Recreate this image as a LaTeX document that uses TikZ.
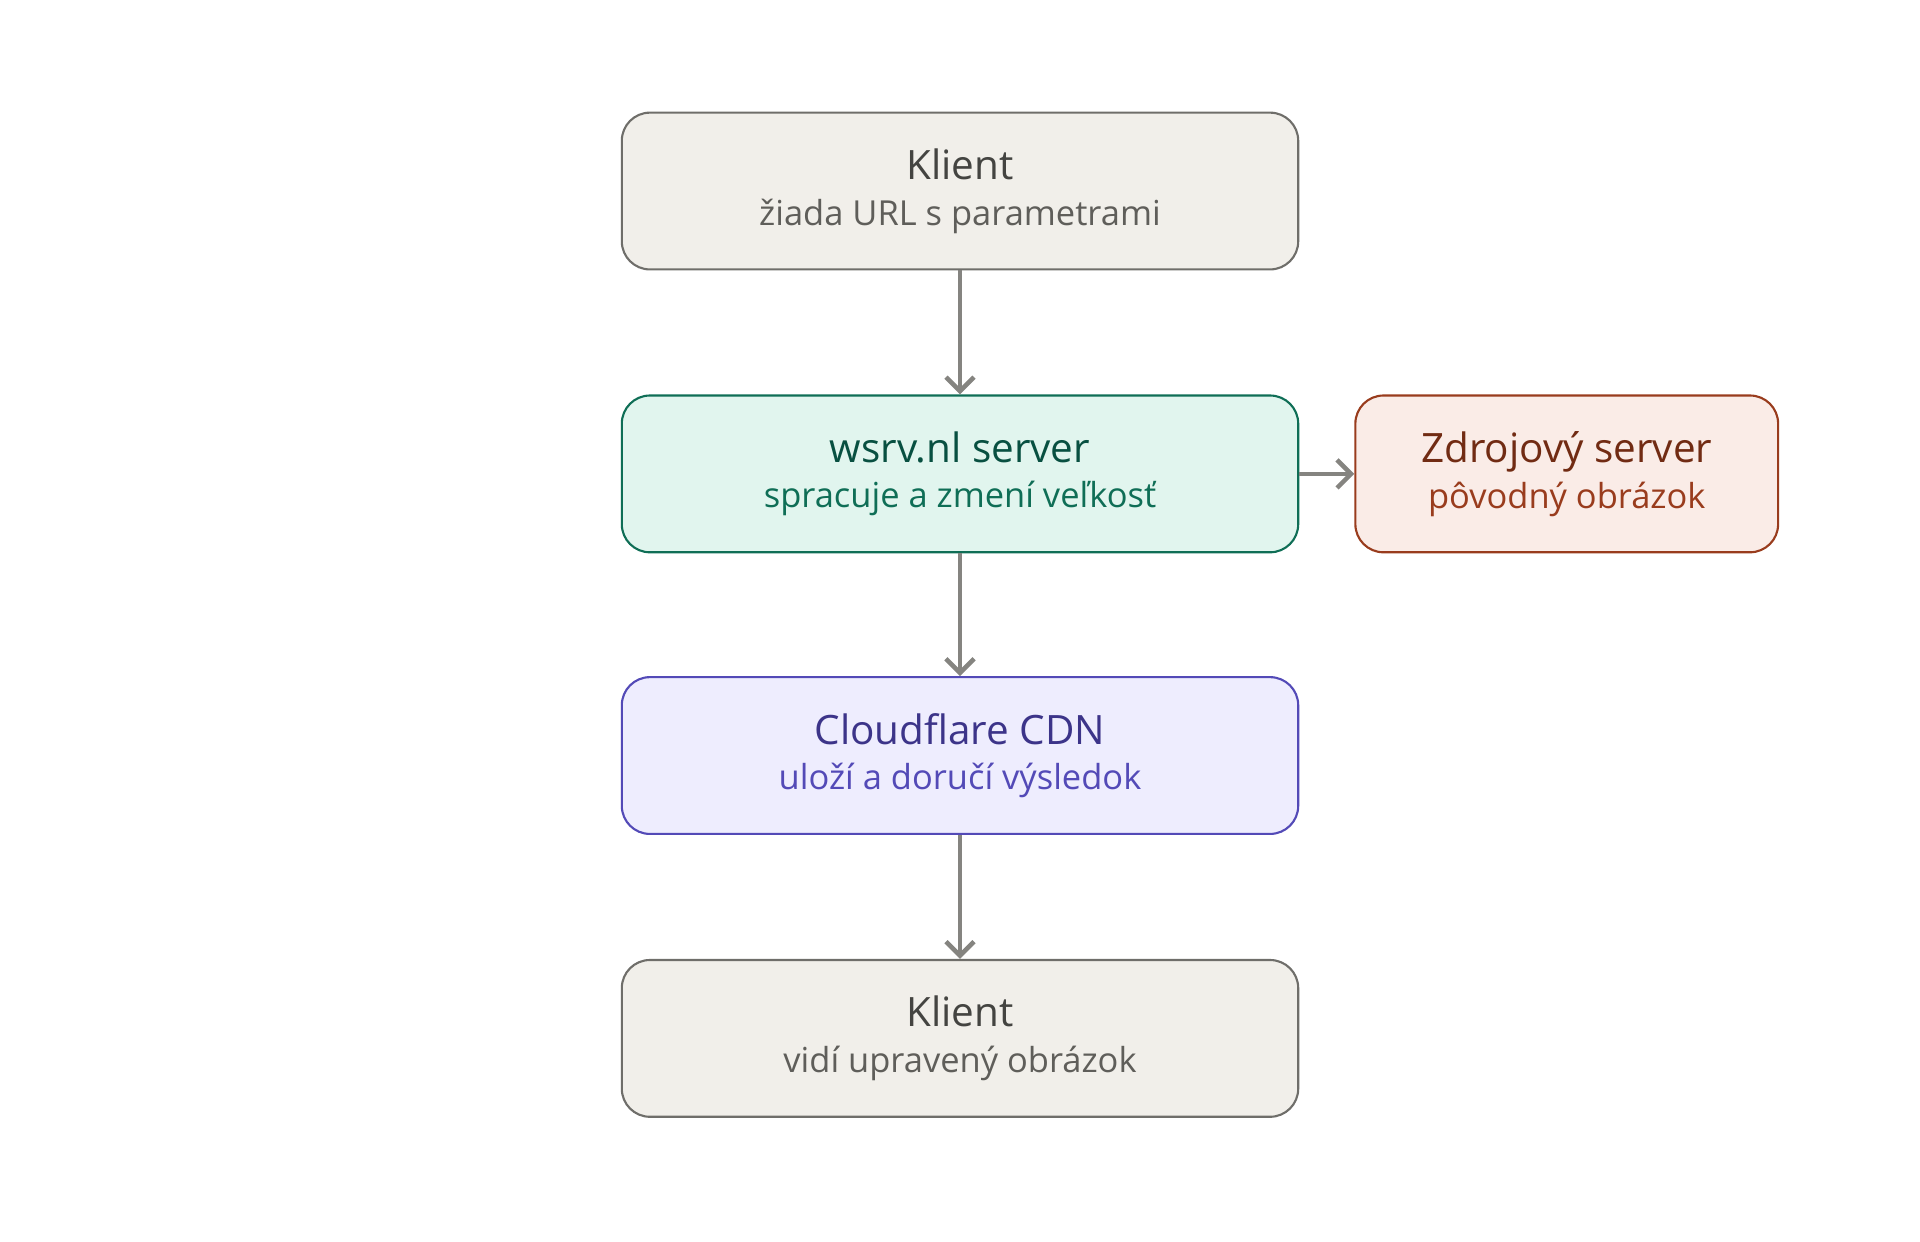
\documentclass[tikz,border=0pt]{standalone}
\usepackage{fontspec}
\setmainfont{Open Sans}
\usepackage{tikz}
\usepackage{xcolor}
\usetikzlibrary{arrows.meta}
\definecolor{grayfill}{HTML}{F1EFEA}
\definecolor{graydraw}{HTML}{6F6E6A}
\definecolor{graytext}{HTML}{444441}
\definecolor{graysub}{HTML}{5F5E5A}
\definecolor{greenfill}{HTML}{E1F5EE}
\definecolor{greendraw}{HTML}{0F6E56}
\definecolor{greentext}{HTML}{085041}
\definecolor{purplefill}{HTML}{EEEDFE}
\definecolor{purpledraw}{HTML}{534AB7}
\definecolor{purpletext}{HTML}{3C3489}
\definecolor{redfill}{HTML}{FAECE7}
\definecolor{reddraw}{HTML}{993C1D}
\definecolor{redtext}{HTML}{712B13}
\newcommand{\boxtext}[4]{{\color{#1}\fontsize{11.5pt}{14pt}\selectfont #2}\\[1pt]{\color{#3}\fontsize{9.8pt}{12pt}\selectfont #4}}

\begin{document}
\begin{tikzpicture}[x=0.012245cm,y=-0.012245cm]
\tikzset{box/.style={rounded corners=8pt, line width=0.6pt, align=center,
  minimum width=6.76cm, minimum height=1.567cm, inner sep=0pt},
  flow/.style={draw=graydraw!85, line width=1.3pt, -{Straight Barb[length=4pt,width=8pt]}}}
\useasboundingbox (0,0) rectangle (1568,1014);
% main column
\node [box, fill=grayfill, draw=graydraw] (klient) at (784,156)
  {\boxtext{graytext}{Klient}{graysub}{žiada URL s parametrami}};
\node [box, fill=greenfill, draw=greendraw] (wsrv) at (784,387)
  {\boxtext{greentext}{wsrv.nl server}{greendraw}{spracuje a zmení veľkosť}};
\node [box, fill=purplefill, draw=purpledraw] (cdn) at (784,617)
  {\boxtext{purpletext}{Cloudflare CDN}{purpledraw}{uloží a doručí výsledok}};
\node [box, fill=grayfill, draw=graydraw] (klient2) at (784,848)
  {\boxtext{graytext}{Klient}{graysub}{vidí upravený obrázok}};
% origin server
\node [box, minimum width=4.225cm, fill=redfill, draw=reddraw] (zdroj) at (1279.5,387)
  {\boxtext{redtext}{Zdrojový server}{reddraw}{pôvodný obrázok}};
\draw [flow] (klient) -- (wsrv);
\draw [flow] (wsrv) -- (cdn);
\draw [flow] (cdn) -- (klient2);
\draw [flow] (wsrv) -- (zdroj);
\end{tikzpicture}
\end{document}
